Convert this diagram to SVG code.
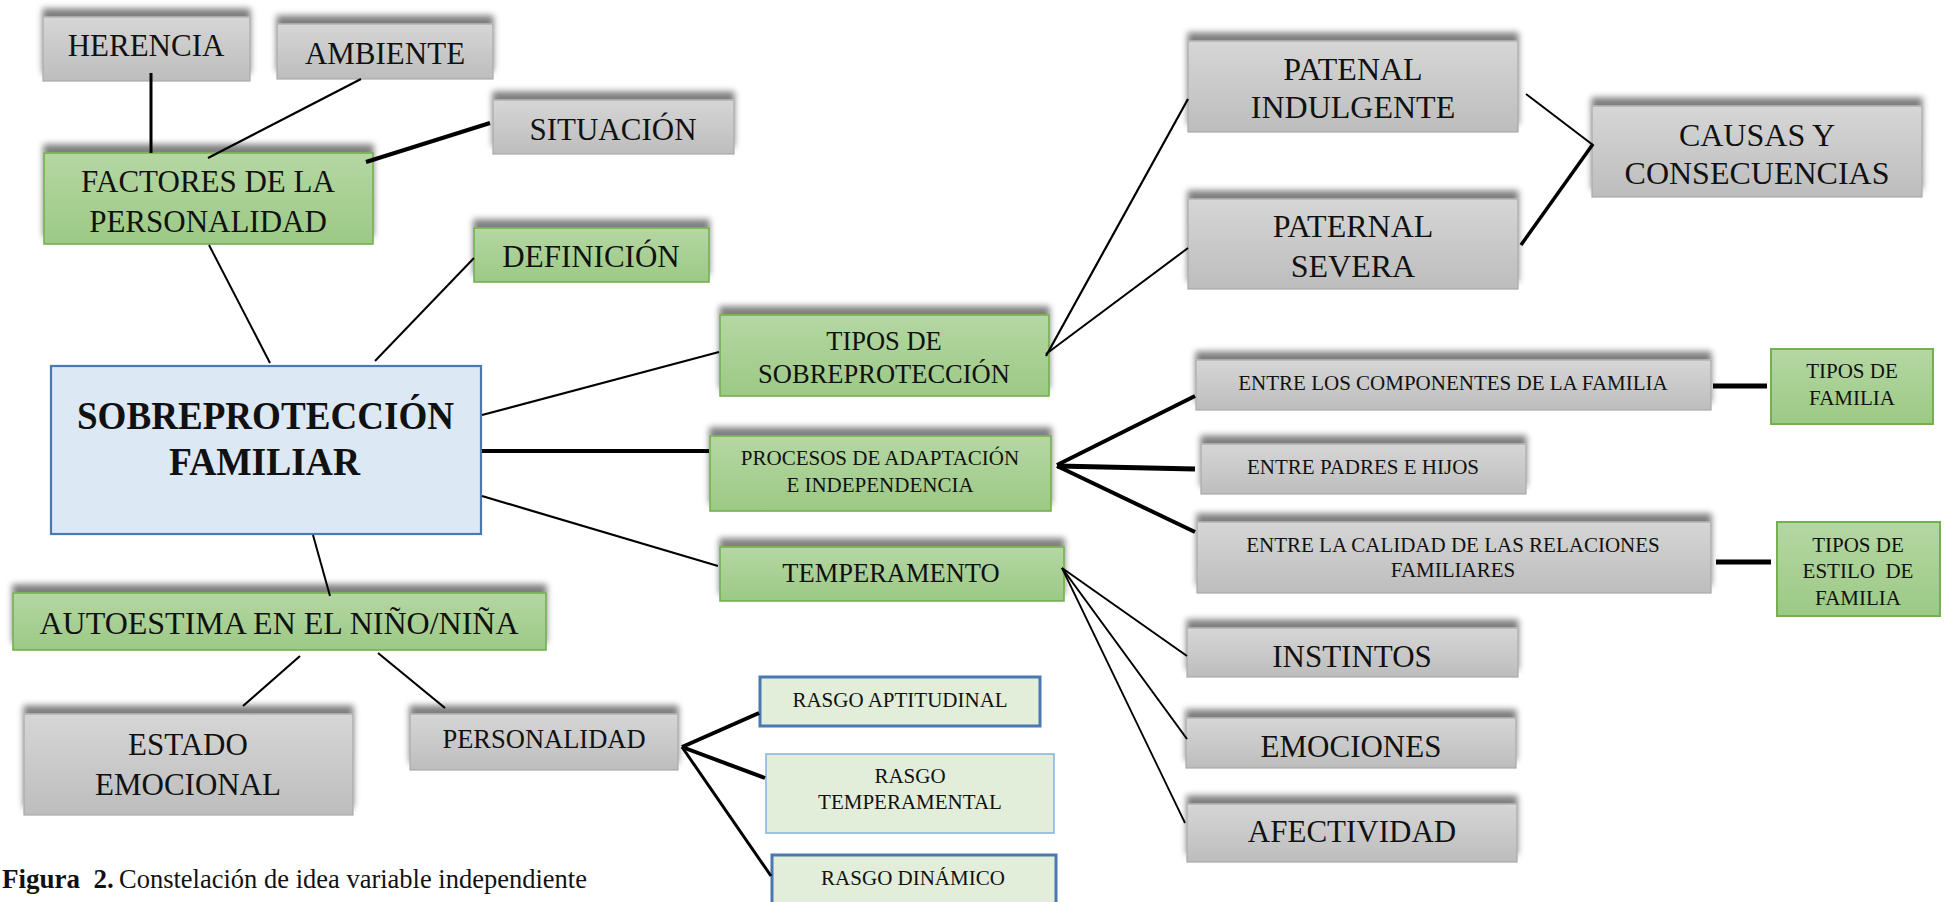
<svg xmlns="http://www.w3.org/2000/svg" width="1946" height="902" viewBox="0 0 1946 902">
<style>
  text { font-family: "Liberation Serif", "Times New Roman", serif; fill: #111; text-anchor: middle; }
  .gray { fill: url(#gGray); stroke: #a9a9a9; stroke-width: 1.2; filter: url(#sh); }
  .green { fill: url(#gGreen); stroke: #74b04f; stroke-width: 1.6; filter: url(#sh); }
  .green2 { fill: url(#gGreen); stroke: #74b04f; stroke-width: 2; }
  .main { fill: #dde8f5; stroke: #4a78b0; stroke-width: 2.2; }
  .rasgo { fill: #e2eed9; stroke: #4a78b0; stroke-width: 3; }
  .rasgo2 { fill: #e2eed9; stroke: #8db4e0; stroke-width: 1.6; }
  .t32 { font-size: 32px; }
  .t31 { font-size: 31px; }
  .t26 { font-size: 26.5px; }
  .t21 { font-size: 21px; }
  .tb { font-size: 39px; font-weight: bold; }
  #connectors line { stroke: #000; stroke-linecap: butt; }
</style>
<defs>
  <linearGradient id="gGray" x1="0" y1="0" x2="0" y2="1">
    <stop offset="0" stop-color="#d6d6d6"/>
    <stop offset="1" stop-color="#bdbdbd"/>
  </linearGradient>
  <linearGradient id="gGreen" x1="0" y1="0" x2="0" y2="1">
    <stop offset="0" stop-color="#b5d7a3"/>
    <stop offset="1" stop-color="#9cc985"/>
  </linearGradient>
  <filter id="sh" x="-6%" y="-50%" width="112%" height="160%">
    <feGaussianBlur in="SourceAlpha" stdDeviation="3"/>
    <feOffset dy="-8" result="b"/>
    <feFlood flood-color="#000" flood-opacity="0.5"/>
    <feComposite in2="b" operator="in"/>
    <feMerge><feMergeNode/><feMergeNode in="SourceGraphic"/></feMerge>
  </filter>
</defs>
<rect width="1946" height="902" fill="#fff"/>

<g id="herencia"><rect class="gray" x="43" y="17" width="207" height="64"/><text class="t31" x="146" y="56">HERENCIA</text></g>
<g id="ambiente"><rect class="gray" x="277" y="24" width="216" height="55"/><text class="t31" x="385" y="64">AMBIENTE</text></g>
<g id="situacion"><rect class="gray" x="493" y="100" width="241" height="54"/><text class="t31" x="613" y="140">SITUACIÓN</text></g>
<g id="factores"><rect class="green" x="44" y="153" width="329" height="91"/><text class="t31" x="208" y="192">FACTORES DE LA</text><text class="t31" x="208" y="232">PERSONALIDAD</text></g>
<g id="definicion"><rect class="green" x="474" y="228" width="235" height="54"/><text class="t31" x="591" y="267">DEFINICIÓN</text></g>
<g id="sobreproteccion"><rect class="main" x="51" y="366" width="430" height="168"/><text class="tb" x="265.5" y="429" textLength="377" lengthAdjust="spacingAndGlyphs">SOBREPROTECCIÓN</text><text class="tb" x="264.5" y="475" textLength="191" lengthAdjust="spacingAndGlyphs">FAMILIAR</text></g>
<g id="autoestima"><rect class="green" x="13" y="593" width="533" height="57"/><text style="font-size:32px" x="279" y="634">AUTOESTIMA EN EL NIÑO/NIÑA</text></g>
<g id="estado"><rect class="gray" x="24" y="714" width="329" height="101"/><text class="t31" x="188" y="755">ESTADO</text><text class="t31" x="188" y="795">EMOCIONAL</text></g>
<g id="personalidad"><rect class="gray" x="410" y="714" width="268" height="56"/><text class="t26" x="544" y="748">PERSONALIDAD</text></g>

<g id="tipos-sobreproteccion"><rect class="green" x="720" y="315" width="329" height="81"/><text class="t26" x="884" y="350">TIPOS DE</text><text class="t26" x="884" y="383">SOBREPROTECCIÓN</text></g>
<g id="procesos"><rect class="green" x="710" y="436" width="341" height="75"/><text class="t21" x="880" y="465">PROCESOS DE ADAPTACIÓN</text><text class="t21" x="880" y="492">E INDEPENDENCIA</text></g>
<g id="temperamento"><rect class="green" x="720" y="547" width="344" height="54"/><text class="t26" x="891" y="582">TEMPERAMENTO</text></g>

<g id="rasgo-aptitudinal"><rect class="rasgo" x="760" y="677" width="280" height="49"/><text class="t21" x="900" y="707">RASGO APTITUDINAL</text></g>
<g id="rasgo-temperamental"><rect class="rasgo2" x="766" y="754" width="288" height="79"/><text class="t21" x="910" y="783">RASGO</text><text class="t21" x="910" y="809">TEMPERAMENTAL</text></g>
<g id="rasgo-dinamico"><rect class="rasgo" x="772" y="855" width="284" height="62"/><text class="t21" x="913" y="885">RASGO DINÁMICO</text></g>

<g id="patenal"><rect class="gray" x="1188" y="41" width="330" height="91"/><text class="t32" x="1353" y="80">PATENAL</text><text class="t32" x="1353" y="118">INDULGENTE</text></g>
<g id="paternal"><rect class="gray" x="1188" y="199" width="330" height="90"/><text class="t32" x="1353" y="237">PATERNAL</text><text class="t32" x="1353" y="277">SEVERA</text></g>
<g id="causas"><rect class="gray" x="1592" y="106" width="330" height="91"/><text class="t32" x="1757" y="146">CAUSAS Y</text><text class="t32" x="1757" y="184">CONSECUENCIAS</text></g>

<g id="entre-componentes"><rect class="gray" x="1196" y="360" width="515" height="50"/><text class="t21" x="1453" y="390">ENTRE LOS COMPONENTES DE LA FAMILIA</text></g>
<g id="entre-padres"><rect class="gray" x="1201" y="444" width="325" height="50"/><text class="t21" x="1363" y="474">ENTRE PADRES E HIJOS</text></g>
<g id="entre-calidad"><rect class="gray" x="1197" y="522" width="514" height="71"/><text class="t21" x="1453" y="552">ENTRE LA CALIDAD DE LAS RELACIONES</text><text class="t21" x="1453" y="577">FAMILIARES</text></g>
<g id="tipos-familia"><rect class="green2" x="1771" y="349" width="162" height="75"/><text class="t21" x="1852" y="378">TIPOS DE</text><text class="t21" x="1852" y="405">FAMILIA</text></g>
<g id="tipos-estilo"><rect class="green2" x="1777" y="522" width="163" height="94"/><text class="t21" x="1858" y="552">TIPOS DE</text><text class="t21" x="1858" y="578" xml:space="preserve">ESTILO  DE</text><text class="t21" x="1858" y="605">FAMILIA</text></g>

<g id="instintos"><rect class="gray" x="1187" y="628" width="331" height="49"/><text class="t31" x="1352" y="667">INSTINTOS</text></g>
<g id="emociones"><rect class="gray" x="1186" y="718" width="330" height="50"/><text class="t31" x="1351" y="757">EMOCIONES</text></g>
<g id="afectividad"><rect class="gray" x="1187" y="804" width="330" height="58"/><text class="t31" x="1352" y="842">AFECTIVIDAD</text></g>

<g id="connectors">
  <line x1="151" y1="73" x2="151" y2="153" stroke-width="3"/>
  <line x1="361" y1="79" x2="208" y2="158" stroke-width="2.2"/>
  <line x1="490" y1="123" x2="366" y2="162" stroke-width="4"/>
  <line x1="209" y1="245" x2="270" y2="363" stroke-width="2"/>
  <line x1="474" y1="258" x2="375" y2="361" stroke-width="2"/>
  <line x1="482" y1="415" x2="719" y2="352" stroke-width="2.2"/>
  <line x1="482" y1="451" x2="709" y2="451" stroke-width="4"/>
  <line x1="482" y1="496" x2="718" y2="566" stroke-width="2.2"/>
  <line x1="313" y1="535" x2="330" y2="596" stroke-width="2"/>
  <line x1="300" y1="656" x2="243" y2="706" stroke-width="2.2"/>
  <line x1="378" y1="653" x2="445" y2="708" stroke-width="2.2"/>
  <line x1="1046" y1="356" x2="1188" y2="99" stroke-width="2.2"/>
  <line x1="1046" y1="354" x2="1188" y2="248" stroke-width="2"/>
  <line x1="1526" y1="94" x2="1593" y2="145" stroke-width="2"/>
  <line x1="1521" y1="245" x2="1593" y2="144" stroke-width="3.5"/>
  <line x1="1057" y1="465" x2="1195" y2="396" stroke-width="4"/>
  <line x1="1057" y1="466" x2="1195" y2="469" stroke-width="5"/>
  <line x1="1057" y1="466" x2="1195" y2="532" stroke-width="4"/>
  <line x1="1713" y1="386" x2="1767" y2="386" stroke-width="5"/>
  <line x1="1716" y1="562" x2="1771" y2="562" stroke-width="5"/>
  <line x1="1062" y1="568" x2="1187" y2="656" stroke-width="2"/>
  <line x1="1062" y1="568" x2="1187" y2="739" stroke-width="2"/>
  <line x1="1062" y1="568" x2="1185" y2="823" stroke-width="1.8"/>
  <line x1="682" y1="747" x2="759" y2="713" stroke-width="4"/>
  <line x1="682" y1="747" x2="765" y2="778" stroke-width="4"/>
  <line x1="682" y1="747" x2="771" y2="876" stroke-width="3"/>
</g>

<g id="caption">
  <text x="2" y="888" style="font-size:27px;font-weight:bold;text-anchor:start" xml:space="preserve">Figura  2.</text>
  <text x="119" y="888" style="font-size:27px;text-anchor:start" textLength="468" lengthAdjust="spacingAndGlyphs">Constelación de idea variable independiente</text>
</g>
</svg>
